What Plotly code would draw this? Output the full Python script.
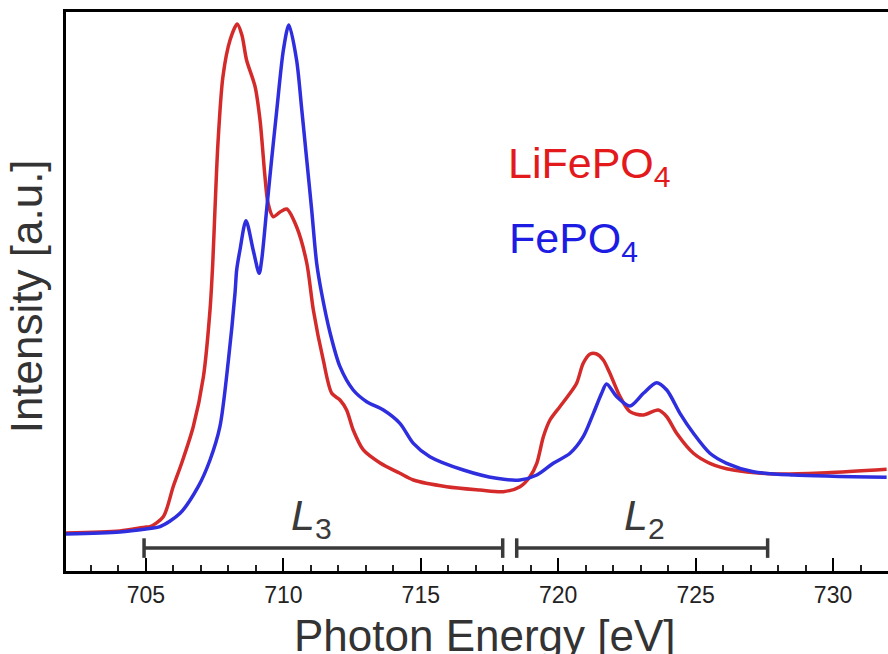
import plotly.graph_objects as go

# ---- data (photon energy in eV, intensity in arbitrary units) ----
energy_lifepo4 = [702.09, 704.05, 705.00, 705.15, 705.63, 705.99, 706.30, 706.72, 707.09, 707.33,
                  707.43, 707.51, 707.62, 707.80, 708.06, 708.32, 708.49, 708.66, 708.97, 709.15,
                  709.33, 709.44, 709.63, 709.88, 710.12, 710.48, 710.85, 711.09, 711.45, 711.76,
                  712.06, 712.30, 712.54, 712.91, 713.52, 714.24, 714.73, 715.94, 717.15, 718.00,
                  718.61, 718.97, 719.22, 719.46, 719.70, 720.06, 720.43, 720.67, 720.91, 721.16,
                  721.40, 721.64, 721.88, 722.25, 722.61, 723.10, 723.64, 723.95, 724.31, 724.92,
                  725.52, 726.37, 727.95, 729.77, 731.95]
intensity_lifepo4 = [6.80, 7.16, 7.87, 7.92, 9.71, 15.08, 19.32, 25.81, 34.76, 46.69,
                     55.10, 64.58, 76.57, 88.43, 94.99, 97.85, 95.88, 91.41, 86.64, 80.68,
                     70.54, 65.83, 63.38, 64.22, 64.76, 61.59, 55.10, 46.69, 37.75, 31.79,
                     30.59, 28.80, 25.22, 21.65, 19.32, 17.48, 16.28, 15.08, 14.49, 14.19,
                     15.08, 16.87, 19.27, 24.03, 27.01, 29.39, 31.79, 33.58, 37.16, 38.82,
                     38.82, 37.75, 35.37, 31.18, 28.50, 27.91, 28.80, 27.60, 24.63, 21.06,
                     19.27, 18.07, 17.35, 17.58, 18.19]

energy_fepo4 = [702.09, 704.05, 705.00, 705.51, 706.24, 706.90, 707.33, 707.69, 708.00, 708.24,
                708.30, 708.42, 708.64, 708.90, 709.12, 709.21, 709.39, 709.57, 709.76, 710.00,
                710.20, 710.48, 710.67, 710.85, 711.03, 711.21, 711.39, 711.70, 712.06, 712.54,
                713.03, 713.64, 714.24, 714.73, 715.33, 716.55, 717.76, 718.61, 719.22, 719.82,
                720.43, 720.91, 721.28, 721.58, 721.76, 722.13, 722.61, 723.10, 723.58, 723.95,
                724.43, 724.92, 725.52, 726.13, 727.10, 728.56, 731.95]
intensity_fepo4 = [6.62, 6.98, 7.51, 7.92, 10.32, 15.08, 19.86, 25.81, 37.75, 49.73,
                   53.85, 57.42, 62.67, 57.42, 53.26, 55.64, 64.58, 73.52, 82.47, 93.20,
                   97.67, 91.41, 82.47, 73.52, 64.58, 55.10, 49.73, 42.58, 36.55, 32.38,
                   30.29, 28.80, 26.42, 22.84, 20.45, 18.07, 16.58, 16.28, 17.17, 19.27,
                   21.06, 24.03, 28.21, 31.79, 33.45, 31.18, 29.52, 31.79, 33.69, 32.38,
                   28.21, 24.63, 21.06, 19.27, 17.76, 17.17, 16.76]

edge_names = ["L3", "L2"]
edge_ranges = [[704.93, 717.98], [718.49, 727.62]]
bar_level = 4.1

x_ticks = [705, 710, 715, 720, 725, 730]
series_names = ["LiFePO4", "FePO4"]

RED = "#d42a2a"
BLUE = "#2e2edf"
DARK = "#3a3a3a"
FONT = "Liberation Sans, Arial, sans-serif"

fig = go.Figure()
fig.add_trace(go.Scatter(x=energy_lifepo4, y=intensity_lifepo4, mode="lines",
                         name=series_names[0], line=dict(color=RED, width=3.5, shape="spline", smoothing=0.8)))
fig.add_trace(go.Scatter(x=energy_fepo4, y=intensity_fepo4, mode="lines",
                         name=series_names[1], line=dict(color=BLUE, width=3.5, shape="spline", smoothing=0.8)))

# edge range bars
for (lo, hi) in edge_ranges:
    fig.add_shape(type="line", x0=lo, x1=hi, y0=bar_level, y1=bar_level, xref="x", yref="y",
                  line=dict(color=DARK, width=3.5))
    for xe in (lo, hi):
        fig.add_shape(type="line", x0=xe, x1=xe, y0=bar_level - 1.75, y1=bar_level + 1.75,
                      xref="x", yref="y", line=dict(color=DARK, width=3.5))

label_x = [711.02, 723.15]
for name, lx in zip(edge_names, label_x):
    fig.add_annotation(x=lx, y=bar_level + 0.15, xref="x", yref="y", yanchor="bottom",
                       text="<i>L</i><sub>" + name[1] + "</sub>", showarrow=False,
                       font=dict(family=FONT, size=43, color=DARK))

# series labels
fig.add_annotation(x=0.535, y=0.7245, xref="paper", yref="paper", xanchor="left", yanchor="middle",
                   text="LiFePO<sub>4</sub>", showarrow=False,
                   font=dict(family=FONT, size=43, color="#e3191c"))
fig.add_annotation(x=0.537, y=0.590, xref="paper", yref="paper", xanchor="left", yanchor="middle",
                   text="FePO<sub>4</sub>", showarrow=False,
                   font=dict(family=FONT, size=43, color="#1c1ce3"))

# axis titles
fig.add_annotation(x=(485 - 66) / 822, y=-0.068, xref="paper", yref="paper", xanchor="center",
                   yanchor="top", text="Photon Energy [eV]", showarrow=False,
                   font=dict(family=FONT, size=44, color="#333333"))
fig.add_annotation(x=-0.047, y=0.492, xref="paper", yref="paper", xanchor="center",
                   yanchor="middle", text="Intensity [a.u.]", textangle=-90, showarrow=False,
                   font=dict(family=FONT, size=44, color="#333333"))

fig.update_layout(
    width=888, height=654,
    margin=dict(l=66, r=0, t=12, b=83),
    paper_bgcolor="white", plot_bgcolor="white",
    showlegend=False,
    xaxis=dict(range=[702.09, 732.0], tickvals=x_ticks, ticktext=[str(v) for v in x_ticks],
               ticks="inside", ticklen=13, tickwidth=2, tickcolor="black",
               minor=dict(dtick=1, tick0=705, ticks="inside", ticklen=6, tickwidth=1.5, tickcolor="#222"),
               showline=True, linecolor="black", linewidth=3, mirror=True,
               showgrid=False, zeroline=False, ticklabelstandoff=1,
               tickfont=dict(family=FONT, size=23, color="#222222")),
    yaxis=dict(range=[0, 100], showticklabels=False, ticks="", showgrid=False, zeroline=False,
               showline=True, linecolor="black", linewidth=3),
)

fig.write_html("out.html")
